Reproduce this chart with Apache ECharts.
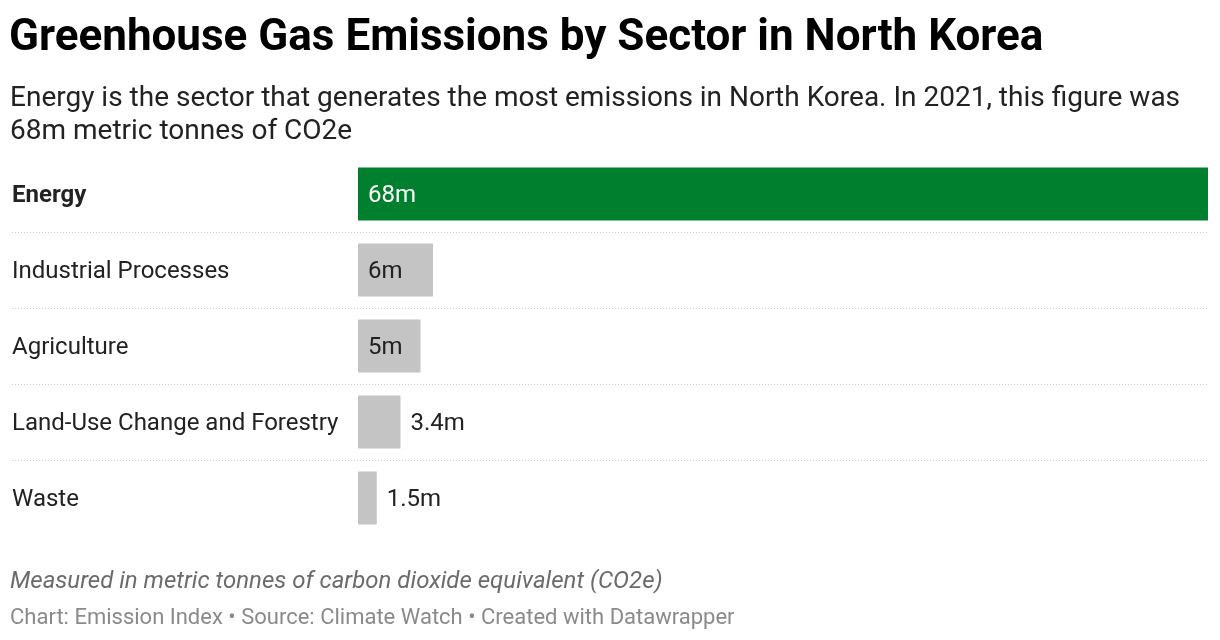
<!DOCTYPE html>
<html>
<head>
<meta charset="utf-8">
<script src="https://cdn.jsdelivr.net/npm/echarts@6/dist/echarts.min.js"></script>
<style>
  html, body { margin: 0; padding: 0; background: #fff; }
  #main { width: 1220px; height: 640px; }
</style>
</head>
<body>
<div id="main"></div>
<script>
'use strict'

// 数据
const sectors = ['Energy', 'Industrial Processes', 'Agriculture', 'Land-Use Change and Forestry', 'Waste'];
const emissions = [68, 6, 5, 3.4, 1.5];
const valueLabels = ['68m', '6m', '5m', '3.4m', '1.5m'];
const highlight = 'Energy';

const FONT = 'Roboto';
let myChart = echarts.init(document.getElementById('main'));

let barData = emissions.map(function (v, i) {
    let isTop = sectors[i] === highlight;
    let inside = v >= 5;
    return {
        value: v,
        itemStyle: { color: isTop ? '#00802e' : '#c4c4c4' },
        label: {
            position: inside ? 'insideLeft' : 'right',
            distance: 10,
            offset: [0, 2],
            color: isTop ? '#ffffff' : '#222222'
        }
    };
});

myChart.setOption({
    backgroundColor: '#ffffff',
    animation: false,
    title: [{
        text: 'Greenhouse Gas Emissions by Sector in North Korea',
        left: 9,
        top: 17,
        padding: 0,
        textStyle: { fontFamily: FONT, fontSize: 44, fontWeight: 'bold', color: '#000' }
    }, {
        text: 'Energy is the sector that generates the most emissions in North Korea. In 2021, this figure was\n68m metric tonnes of CO2e',
        left: 10,
        top: 82,
        padding: 0,
        textStyle: { fontFamily: FONT, fontSize: 28, fontWeight: 'normal', color: '#222', lineHeight: 33 }
    }, {
        text: 'Measured in metric tonnes of carbon dioxide equivalent (CO2e)',
        left: 10,
        top: 570,
        padding: 0,
        textStyle: { fontFamily: FONT, fontSize: 24, fontStyle: 'italic', fontWeight: 'normal', color: '#6b6b6b' }
    }, {
        text: 'Chart: Emission Index • Source: Climate Watch • Created with Datawrapper',
        left: 10,
        top: 607,
        padding: 0,
        textStyle: { fontFamily: FONT, fontSize: 22, fontWeight: 'normal', color: '#8a8a8a' }
    }],
    grid: {
        left: 358,
        right: 12,
        top: 156,
        bottom: 104,
        containLabel: false
    },
    xAxis: {
        type: 'value',
        min: 0,
        max: 68,
        show: false
    },
    yAxis: {
        type: 'category',
        data: sectors,
        inverse: true,
        axisLine: { show: false },
        axisTick: { show: false },
        splitLine: { show: false },
        axisLabel: {
            align: 'left',
            margin: 346,
            padding: [4, 0, 0, 0],
            fontFamily: FONT,
            fontSize: 24,
            color: '#222',
            formatter: function (val) {
                return val === highlight ? '{b|' + val + '}' : val;
            },
            rich: {
                b: { fontFamily: FONT, fontSize: 24, fontWeight: 'bold', color: '#222' }
            }
        }
    },
    series: [{
        type: 'bar',
        data: barData,
        barWidth: 53,
        label: {
            show: true,
            fontFamily: FONT,
            fontSize: 24,
            formatter: function (p) { return valueLabels[p.dataIndex]; }
        }
    }]
});

// 分隔虚线: 在类目之间
let lines = [];
for (let i = 0; i < sectors.length - 1; i++) {
    let y = (myChart.convertToPixel({ yAxisIndex: 0 }, i) + myChart.convertToPixel({ yAxisIndex: 0 }, i + 1)) / 2;
    y = Math.round(y) + 0.5;
    lines.push({
        type: 'line',
        shape: { x1: 12, y1: y, x2: 1208, y2: y },
        style: { stroke: '#cccccc', lineWidth: 1, lineDash: [1, 2] },
        silent: true
    });
}
myChart.setOption({ graphic: lines });
</script>
</body>
</html>
